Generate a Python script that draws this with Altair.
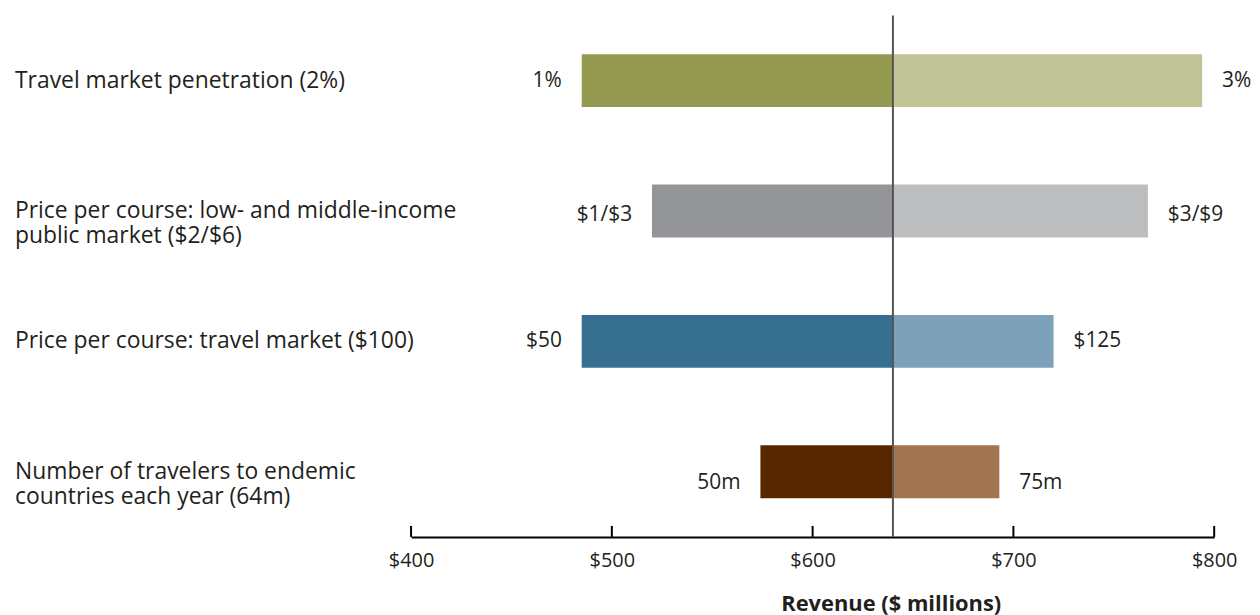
import altair as alt
import pandas as pd

categories = [
    "Travel market penetration (2%)",
    "Price per course: low- and middle-income\npublic market ($2/$6)",
    "Price per course: travel market ($100)",
    "Number of travelers to endemic\ncountries each year (64m)",
]
base_value = 640
low_values = [485, 520, 485, 574]
high_values = [794, 767, 720, 693]
low_labels = ["1%", "$1/$3", "$50", "50m"]
high_labels = ["3%", "$3/$9", "$125", "75m"]
dark_colors = ["#93994F", "#939598", "#376F91", "#572700"]
light_colors = ["#C1C496", "#BCBDBE", "#7EA1BA", "#A0754F"]
tick_values = [400, 500, 600, 700, 800]

FONT = "Open Sans"
TXT = "#231F20"

rows = list(range(len(categories)))
bars = pd.DataFrame(
    [{"row": r, "start": base_value, "end": low_values[r], "color": dark_colors[r]} for r in rows]
    + [{"row": r, "start": base_value, "end": high_values[r], "color": light_colors[r]} for r in rows]
)
labels = pd.DataFrame({
    "row": rows,
    "cat": categories,
    "low": low_values,
    "high": high_values,
    "low_label": low_labels,
    "high_label": high_labels,
})
ticks = pd.DataFrame({"v": tick_values})
center = pd.DataFrame({"v": [base_value]})

xscale = alt.Scale(domain=[400, 800], nice=False, zero=False)
yscale = alt.Scale(domain=rows, paddingInner=0.595, paddingOuter=0.2975)
x_axis = alt.Axis(values=tick_values, format="$.0f", title="Revenue ($ millions)",
                  grid=False, ticks=False, domainColor="#000000", domainWidth=2,
                  labelFontSize=20, labelColor=TXT, labelFont=FONT, labelPadding=14,
                  labelFlush=False, labelBound=False,
                  titleFont=FONT, titleFontSize=22, titleFontWeight="bold", titleColor=TXT,
                  titleX=482, titleY=67, titleAlign="center", titleBaseline="middle")

bar_layer = alt.Chart(bars).mark_bar().encode(
    x=alt.X("start:Q", scale=xscale, axis=x_axis),
    x2="end:Q",
    y=alt.Y("row:O", scale=yscale, axis=None),
    color=alt.Color("color:N", scale=None),
)

tick_layer = alt.Chart(ticks).mark_rule(color="#000000", strokeWidth=2).encode(
    x=alt.X("v:Q", scale=xscale, axis=x_axis),
    y=alt.value(513),
    y2=alt.value(524),
)

center_layer = alt.Chart(center).mark_rule(color="#555555", strokeWidth=2).encode(
    x=alt.X("v:Q", scale=xscale, axis=x_axis),
    y=alt.value(0),
    y2=alt.value(524),
)


def value_text(field, text_field, align, dx, dy, cond):
    return alt.Chart(labels).transform_filter(cond).mark_text(
        align=align, baseline="middle", dx=dx, dy=dy, fontSize=21, font=FONT, color=TXT
    ).encode(
        x=alt.X(f"{field}:Q", scale=xscale, axis=x_axis),
        y=alt.Y("row:O", scale=yscale, axis=None),
        text=f"{text_field}:N",
    )


low_top = value_text("low", "low_label", "right", -20, 0, "datum.row != 1 && datum.row != 3")
high_top = value_text("high", "high_label", "left", 20, 0, "datum.row != 1 && datum.row != 3")
low_mid = value_text("low", "low_label", "right", -20, 4, "datum.row == 1")
high_mid = value_text("high", "high_label", "left", 20, 4, "datum.row == 1")
low_bot = value_text("low", "low_label", "right", -20, 11, "datum.row == 3")
high_bot = value_text("high", "high_label", "left", 20, 11, "datum.row == 3")

cat_text = alt.Chart(labels).mark_text(align="left", baseline="middle", lineBreak="\n",
                                       fontSize=23, font=FONT, color=TXT, lineHeight=25).encode(
    x=alt.value(-398),
    y=alt.Y("row:O", scale=yscale, axis=None),
    text="cat:N",
)

chart = alt.layer(bar_layer, center_layer, tick_layer, low_top, high_top, low_mid, high_mid,
                  low_bot, high_bot, cat_text).properties(
    width=807, height=524,
    padding={"left": 7, "top": 5, "right": 0, "bottom": 0},
).configure_view(stroke=None)

chart.save("out.html", embed_options={"renderer": "svg", "actions": False})
